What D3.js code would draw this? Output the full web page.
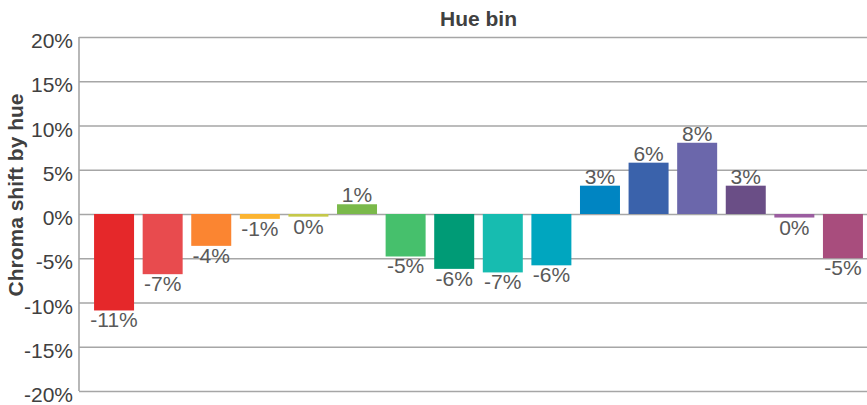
<!DOCTYPE html>
<html>
<head>
<meta charset="utf-8">
<script src="https://cdn.jsdelivr.net/npm/d3@7"></script>
<style>
  body { margin: 0; background: #fff; }
  text { font-family: Arial, "Liberation Sans", sans-serif; }
</style>
</head>
<body>
<div id="chart"></div>
<script>
// Datos: variacion de croma por tono (%)
const hueBins = ["b1", "b2", "b3", "b4", "b5", "b6", "b7", "b8",
                 "b9", "b10", "b11", "b12", "b13", "b14", "b15", "b16"];
const chromaShift = [-10.9, -6.8, -3.6, -0.55, -0.3, 1.1, -4.8, -6.2,
                     -6.6, -5.8, 3.2, 5.8, 8.05, 3.2, -0.4, -5.0];
const barColors = ["#e5282a", "#e84b4e", "#fb8531", "#fbb431", "#c5c84a", "#7ab94a",
                   "#46c06c", "#009b76", "#17bcb0", "#00a6bf", "#0085c2", "#3a62ab",
                   "#6b67ab", "#6a4e86", "#9b5da0", "#a84d7d"];
const yTicks = [-20, -15, -10, -5, 0, 5, 10, 15, 20];

const width = 867;
const height = 405;
const margin = { top: 37, right: -11, bottom: 14, left: 79 };

const x = d3.scaleBand()
    .domain(hueBins)
    .range([margin.left, width - margin.right])
    .paddingInner(0.177)
    .paddingOuter(0.31);

const y = d3.scaleLinear()
    .domain([-20, 20])
    .range([height - margin.bottom, margin.top]);

const svg = d3.select("#chart").append("svg")
    .attr("width", width)
    .attr("height", height);

// Lineas de cuadricula + etiquetas del eje Y
const grid = svg.append("g")
    .attr("transform", `translate(${margin.left},0)`)
    .call(d3.axisLeft(y)
        .tickValues(yTicks)
        .tickSize(-(width - margin.right - margin.left))
        .tickPadding(6)
        .tickFormat(d => d + "%"));

grid.select(".domain").remove();
grid.selectAll(".tick line")
    .attr("stroke", "#a6a6a6")
    .attr("stroke-width", 1.6);
grid.selectAll(".tick text")
    .attr("fill", "#404040")
    .attr("dy", "0.5em")
    .style("font-size", "21px");

// Linea del eje izquierdo
svg.append("line")
    .attr("x1", margin.left)
    .attr("x2", margin.left)
    .attr("y1", y(20))
    .attr("y2", y(-20))
    .attr("stroke", "#a6a6a6")
    .attr("stroke-width", 1.6);

// Barras
svg.selectAll("rect.bar")
    .data(chromaShift)
    .enter()
    .append("rect")
    .attr("class", "bar")
    .attr("x", (d, i) => x(hueBins[i]))
    .attr("width", x.bandwidth())
    .attr("y", d => y(Math.max(0, d)))
    .attr("height", d => Math.abs(y(d) - y(0)))
    .attr("fill", (d, i) => barColors[i]);

// Etiquetas de valor
svg.selectAll("text.label")
    .data(chromaShift)
    .enter()
    .append("text")
    .attr("class", "label")
    .attr("x", (d, i) => x(hueBins[i]) + x.bandwidth() / 2)
    .attr("y", d => d >= 0 ? y(d) - 2 : y(d) + 17)
    .attr("text-anchor", "middle")
    .attr("fill", "#595959")
    .style("font-size", "21px")
    .text(d => `${Math.round(d)}%`);

// Titulo
svg.append("text")
    .attr("x", (margin.left + width - margin.right) / 2)
    .attr("y", 26)
    .attr("text-anchor", "middle")
    .attr("fill", "#404040")
    .style("font-size", "21px")
    .style("font-weight", "bold")
    .text("Hue bin");

// Titulo del eje Y
svg.append("text")
    .attr("transform", "translate(23,195) rotate(-90)")
    .attr("text-anchor", "middle")
    .attr("fill", "#404040")
    .style("font-size", "21px")
    .style("font-weight", "bold")
    .text("Chroma shift by hue");
</script>
</body>
</html>
